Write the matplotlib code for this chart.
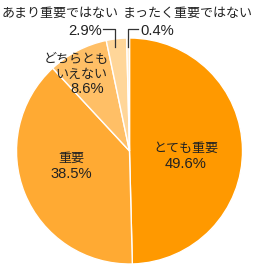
import matplotlib.pyplot as plt

plt.rcParams['font.family'] = ['Noto Sans CJK JP', 'DejaVu Sans']

labels = ['とても重要', '重要', 'どちらとも\nいえない', 'あまり重要ではない', 'まったく重要ではない']
values = [49.6, 38.5, 8.6, 2.9, 0.4]
colors = ['#FF9900', '#FFAA33', '#FFBF66', '#FFD699', '#FFEBCC']

W, H = 262, 271
fig = plt.figure(figsize=(W / 100, H / 100), dpi=100)
ax = fig.add_axes([0, 0, 1, 1])

# pixel coords -> data (y flipped)
def Y(py):
    return H - py

cx, cy, r = 129.5, 151, 113
ax.pie(values, colors=colors, startangle=90, counterclock=False,
       center=(cx, Y(cy)), radius=r, frame=True,
       wedgeprops=dict(edgecolor='white', linewidth=1))
ax.set_xlim(0, W)
ax.set_ylim(0, H)
ax.set_aspect('equal')
ax.axis('off')

fs = 9.4
ns = 10.6
tc = '#222222'
jp = dict(ha='center', va='center', fontsize=fs, color=tc, family='Noto Sans CJK JP')
num = dict(ha='center', va='center', fontsize=ns, color=tc, family='Liberation Sans')

ax.text(186, Y(148), 'とても重要', **jp)
ax.text(186, Y(164), f'{values[0]}%', **num)
ax.text(71, Y(158), '重要', **jp)
ax.text(71, Y(174), f'{values[1]}%', **num)
ax.text(76, Y(59), 'どちらとも', **jp)
ax.text(81, Y(74), 'いえない', **jp)
ax.text(87, Y(89), f'{values[2]}%', **num)
ax.text(60, Y(13), labels[3], **jp)
ax.text(85, Y(31), f'{values[3]}%', **num)
ax.text(188, Y(13), labels[4], **jp)
ax.text(157, Y(31), f'{values[4]}%', **num)

# leader lines
ax.plot([103, 115, 115], [Y(29), Y(29), Y(47)], color='#333333', lw=0.9)
ax.plot([138, 128, 128], [Y(29), Y(29), Y(47)], color='#333333', lw=0.9)

fig.savefig('out.png', dpi=100)
